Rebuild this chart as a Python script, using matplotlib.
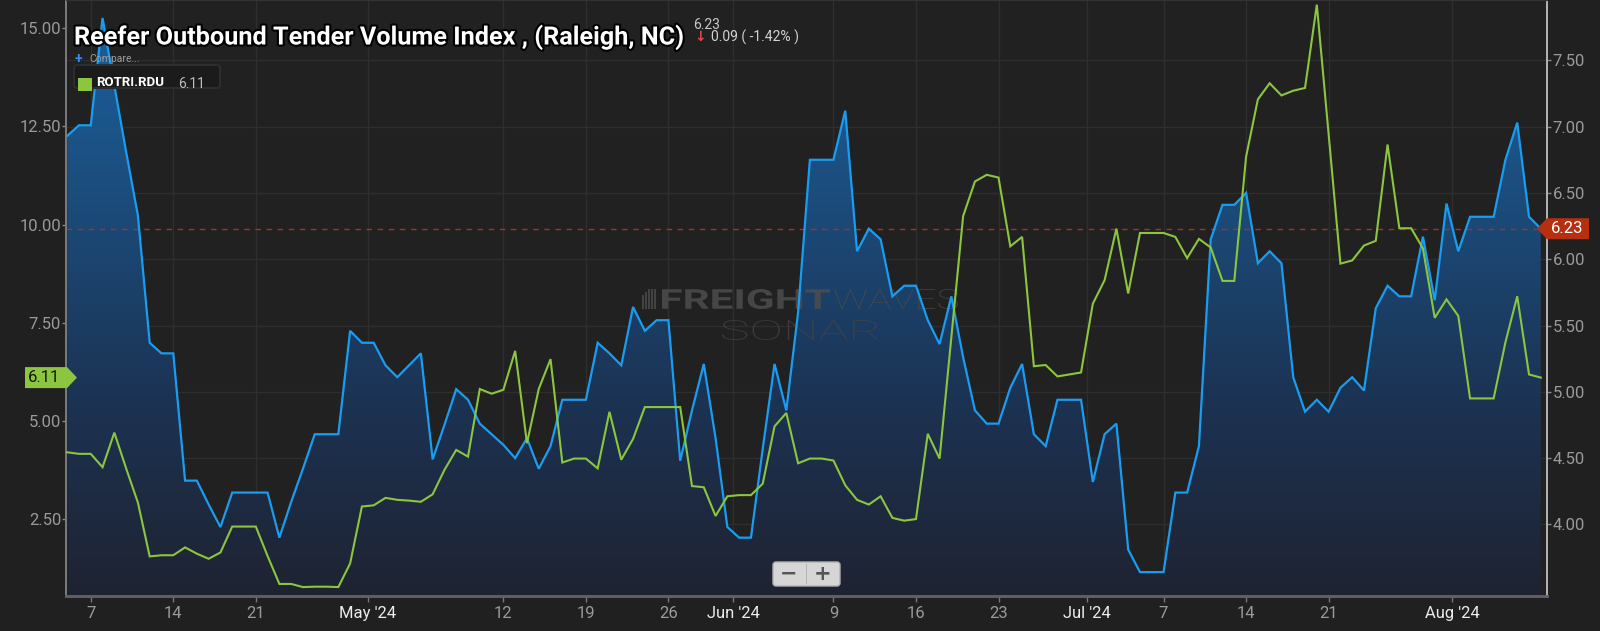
import numpy as np
import pandas as pd
import matplotlib
matplotlib.use("Agg")
import matplotlib.pyplot as plt
import matplotlib.dates as mdates
from matplotlib.colors import LinearSegmentedColormap
from matplotlib.patches import Polygon, FancyBboxPatch, Rectangle, PathPatch
from matplotlib.transforms import IdentityTransform, Affine2D
from matplotlib.textpath import TextPath
from matplotlib.font_manager import FontProperties
import matplotlib.patheffects as pe

plt.rcParams['font.family'] = ['Roboto', 'DejaVu Sans']

# ---------------- data ----------------
start_date = "2024-04-05"
n_days = 126

# Reefer Outbound Tender Volume Index (Raleigh) - right axis, blue area
rotvi = [6.93, 7.01, 7.01, 7.82, 7.31, 6.81, 6.33, 5.37, 5.29, 5.29,
         4.33, 4.33, 4.15, 3.98, 4.24, 4.24, 4.24, 4.24, 3.90, 4.17,
         4.42, 4.68, 4.68, 4.68, 5.46, 5.37, 5.37, 5.20, 5.11, 5.20,
         5.29, 4.49, 4.75, 5.02, 4.94, 4.76, 4.68, 4.60, 4.50, 4.65,
         4.42, 4.59, 4.94, 4.94, 4.94, 5.37, 5.29, 5.20, 5.64, 5.46,
         5.54, 5.54, 4.48, 4.86, 5.21, 4.65, 3.98, 3.90, 3.90, 4.57,
         5.21, 4.86, 5.60, 6.75, 6.75, 6.75, 7.12, 6.06, 6.23, 6.15,
         5.72, 5.80, 5.80, 5.54, 5.36, 5.72, 5.26, 4.86, 4.76, 4.76,
         5.03, 5.21, 4.68, 4.59, 4.94, 4.94, 4.94, 4.32, 4.68, 4.76,
         3.81, 3.64, 3.64, 3.64, 4.24, 4.24, 4.59, 6.15, 6.41, 6.41,
         6.50, 5.97, 6.06, 5.97, 5.11, 4.85, 4.94, 4.85, 5.03, 5.11,
         5.01, 5.63, 5.80, 5.72, 5.72, 6.17, 5.69, 6.42, 6.06, 6.32,
         6.32, 6.32, 6.75, 7.03, 6.32, 6.23]

# ROTRI.RDU - left axis, green line
rotri = [4.21, 4.17, 4.17, 3.83, 4.71, 3.80, 2.93, 1.56, 1.59, 1.59,
         1.79, 1.63, 1.50, 1.66, 2.32, 2.32, 2.32, 1.57, 0.86, 0.86,
         0.78, 0.79, 0.79, 0.78, 1.38, 2.83, 2.86, 3.05, 3.00, 2.98,
         2.95, 3.14, 3.76, 4.27, 4.10, 5.82, 5.70, 5.80, 6.79, 4.44,
         5.82, 6.58, 3.95, 4.05, 4.05, 3.80, 5.24, 4.02, 4.55, 5.36,
         5.36, 5.36, 5.36, 3.35, 3.32, 2.59, 3.09, 3.12, 3.12, 3.41,
         4.87, 5.21, 3.93, 4.05, 4.05, 4.00, 3.37, 3.00, 2.88, 3.09,
         2.54, 2.47, 2.51, 4.68, 4.05, 7.14, 10.22, 11.10, 11.27, 11.20,
         9.45, 9.69, 6.40, 6.43, 6.14, 6.19, 6.24, 7.99, 8.59, 9.90,
         8.25, 9.79, 9.79, 9.79, 9.69, 9.15, 9.64, 9.42, 8.57, 8.57,
         11.73, 13.19, 13.60, 13.29, 13.41, 13.48, 15.60, 12.31, 9.01, 9.09,
         9.47, 9.59, 12.04, 9.91, 9.91, 9.40, 7.63, 8.10, 7.68, 5.58,
         5.58, 5.58, 7.01, 8.18, 6.19, 6.11]

day_tick_dates = ["2024-04-07", "2024-04-14", "2024-04-21", "2024-05-12",
                  "2024-05-19", "2024-05-26", "2024-06-09", "2024-06-16",
                  "2024-06-23", "2024-07-07", "2024-07-14", "2024-07-21"]
day_tick_labels = ["7", "14", "21", "12", "19", "26", "9", "16", "23", "7", "14", "21"]
month_tick_dates = ["2024-05-01", "2024-06-01", "2024-07-01", "2024-08-01"]
month_tick_labels = ["May '24", "Jun '24", "Jul '24", "Aug '24"]

left_ticks = [2.5, 5.0, 7.5, 10.0, 12.5, 15.0]
right_ticks = [4.0, 4.5, 5.0, 5.5, 6.0, 6.5, 7.0, 7.5]

title_text = "Reefer Outbound Tender Volume Index , (Raleigh, NC)"
last_value = "6.23"
change_text = "0.09 ( -1.42% )"
series2_name = "ROTRI.RDU"
series2_last = "6.11"

# ---------------- style ----------------
W, H = 1600, 631
BG = "#202020"
BLUE = "#1a9cf0"
GREEN = "#8cc63e"
GRID = "#2e2e2e"
TICK_GREY = "#9a9a9a"

fig = plt.figure(figsize=(W / 100, H / 100), dpi=100, facecolor=BG)
ax = fig.add_axes([66 / W, (H - 596) / H, (1547 - 66) / W, 596 / H])
ax.set_facecolor("#212121")
axg = ax.twinx()

dates = pd.date_range(start_date, periods=n_days, freq="D")
x = mdates.date2num(dates.to_pydatetime())
blue = np.array(rotvi)
green = np.array(rotri)

r_lo, r_hi = 3.46, 7.955
l_lo, l_hi = 0.553, 15.718

# gradient area under blue line
cmap = LinearSegmentedColormap.from_list(
    "fill", [(0.0, "#1f2331"), (0.3, "#1c3150"), (0.78, "#1b5488"), (1.0, "#1a60a2")])
poly = ax.fill_between(x, blue, r_lo - 1, facecolor="none", edgecolor="none")
fill_path = poly.get_paths()[0]
grad = np.linspace(0, 1, 256).reshape(-1, 1)
im = ax.imshow(grad, cmap=cmap, origin="lower", extent=(0, 1, 0, 1),
               transform=ax.transAxes, aspect="auto", zorder=1, interpolation="bicubic")
im.set_clip_path(fill_path, transform=ax.transData)
poly.remove()

ax.plot(x, blue, color=BLUE, lw=1.6, zorder=4, solid_joinstyle="miter")
ax.axhline(float(last_value), color="#a8321f", lw=1.0, ls=(0, (4, 4)), zorder=3)
axg.plot(x, green, color=GREEN, lw=1.5, zorder=4, solid_joinstyle="miter")

x_left = x[0] - 0.1
x_right = x[-1] + 0.525
ax.set_xlim(x_left, x_right)
ax.set_ylim(r_lo, r_hi)
axg.set_ylim(l_lo, l_hi)

# x ticks
day_pos = list(mdates.date2num(pd.to_datetime(day_tick_dates).to_pydatetime()))
month_pos = list(mdates.date2num(pd.to_datetime(month_tick_dates).to_pydatetime()) - 0.5)
all_pos = day_pos + month_pos
all_lab = day_tick_labels + month_tick_labels
order = np.argsort(all_pos)
ax.set_xticks([all_pos[i] for i in order])
ax.set_xticklabels([all_lab[i] for i in order])
for lbl in ax.get_xticklabels():
    if "'" in lbl.get_text():
        lbl.set_color("#ececec")
    else:
        lbl.set_color(TICK_GREY)
    lbl.set_fontsize(12)
ax.tick_params(axis="x", length=4, width=1, color="#777777", pad=3)

# y ticks: blue on right, green on left
ax.yaxis.tick_right()
ax.set_yticks(right_ticks)
ax.set_yticklabels([f"{v:.2f}" for v in right_ticks])
ax.tick_params(axis="y", which="both", right=True, left=False, labelright=True,
               labelleft=False, length=3, width=1, color="#888888",
               labelcolor=TICK_GREY, labelsize=12, pad=1)
axg.yaxis.tick_left()
axg.yaxis.set_label_position("left")
axg.set_yticks(left_ticks)
axg.set_yticklabels([f"{v:.2f}" for v in left_ticks])
axg.tick_params(axis="y", which="both", left=True, right=False, labelleft=True,
                labelright=False, length=3, width=1, color="#888888",
                labelcolor=TICK_GREY, labelsize=12, pad=0.5)

ax.grid(True, color=GRID, lw=1.0, zorder=0)
ax.set_axisbelow(True)

for a in (ax, axg):
    a.spines["top"].set_color("#333333")
    a.spines["bottom"].set_color("#5f5f5f")
    a.spines["bottom"].set_linewidth(2)
    a.spines["left"].set_color("#7a7a7a")
    a.spines["left"].set_linewidth(1.3)
    a.spines["right"].set_color("#b5b5b5")
    a.spines["right"].set_linewidth(1.2)

# ---------------- watermark ----------------
def fit_path(s, fp, x0, x1, ytop, ybot, color, alpha, target):
    tp = TextPath((0, 0), s, size=100, prop=fp)
    ext = tp.get_extents()
    sx = (x1 - x0) / ext.width
    sy = (ybot - ytop) / ext.height
    tr = Affine2D().translate(-ext.x0, -ext.y0).scale(sx, sy).translate(x0, H - ybot)
    p = PathPatch(tr.transform_path(tp), transform=IdentityTransform(),
                  facecolor=color, edgecolor="none", alpha=alpha, zorder=2, clip_on=False)
    target.add_artist(p)

fit_path("FREIGHT", FontProperties(family="Roboto", weight="bold"),
         662, 830, 289, 309, "#4d4d4d", 0.85, ax)
fit_path("WAVES", FontProperties(family="Roboto", weight="light"),
         834, 958, 289, 309, "#4a4a4a", 0.85, ax)
fit_path("SONAR", FontProperties(family="Roboto", weight="light"),
         722, 878, 320, 340, "#434343", 0.85, ax)
for i, hh in enumerate([14, 17, 20, 20, 20]):
    xx = 642 + i * 3
    r = Rectangle((xx, H - 309), 1.6, hh, transform=IdentityTransform(),
                  facecolor="#4a4a4a", edgecolor="none", alpha=0.85, zorder=2, clip_on=False)
    ax.add_artist(r)

# ---------------- value tags ----------------
yl = axg.transData.transform((x[0], float(series2_last)))[1]
tag_l = Polygon([(25, yl + 10.5), (67, yl + 10.5), (77, yl), (67, yl - 10.5), (25, yl - 10.5)],
                closed=True, transform=IdentityTransform(), facecolor=GREEN,
                edgecolor="none", zorder=20, clip_on=False)
fig.add_artist(tag_l)
fig.text(44 / W, yl / H, series2_last, color="#151515", fontsize=12,
         ha="center", va="center", zorder=21)

yr = ax.transData.transform((x[-1], float(last_value)))[1]
tag_r = Polygon([(1537, yr), (1547, yr + 10.5), (1589, yr + 10.5), (1589, yr - 10.5), (1547, yr - 10.5)],
                closed=True, transform=IdentityTransform(), facecolor="#b52f10",
                edgecolor="none", zorder=20, clip_on=False)
fig.add_artist(tag_r)
fig.text(1567 / W, yr / H, last_value, color="white", fontsize=12,
         ha="center", va="center", zorder=21)

# ---------------- title & header ----------------
renderer = fig.canvas.get_renderer()
t = fig.text(74 / W, 1 - 44.5 / H, title_text, color="white", fontsize=17,
             fontweight="bold", ha="left", va="baseline", zorder=30,
             path_effects=[pe.withStroke(linewidth=3, foreground="black")])
w0 = t.get_window_extent(renderer=renderer).width
t.set_fontsize(17 * 611 / w0)

fig.text(693 / W, 1 - 25 / H, last_value, color="#c8c8c8", fontsize=10,
         ha="left", va="center", zorder=30)
fig.text(700 / W, 1 - 37 / H, "\u2193", color="#e04848", fontsize=10, fontweight="bold",
         family="DejaVu Sans", ha="center", va="center", zorder=30)
fig.text(711 / W, 1 - 37 / H, change_text, color="#d2d2d2", fontsize=10,
         ha="left", va="center", zorder=30)

fig.text(78 / W, 1 - 59 / H, "+", color="#2f8ff0", fontsize=10, fontweight="bold",
         ha="center", va="center", zorder=30)
fig.text(89 / W, 1 - 59 / H, "Compare...", color="#9c9c9c", fontsize=7.5,
         ha="left", va="center", zorder=30)

box = FancyBboxPatch((74, H - 88), 146, 23, boxstyle="round,pad=0,rounding_size=3",
                     transform=IdentityTransform(), facecolor="#1b1b1b",
                     edgecolor="#2d2d2d", lw=1.5, zorder=25, clip_on=False)
fig.add_artist(box)
sq = Rectangle((78, H - 91), 14, 13, transform=IdentityTransform(),
               facecolor=GREEN, edgecolor="none", zorder=26, clip_on=False)
fig.add_artist(sq)
fig.text(96 / W, 1 - 82.5 / H, series2_name, color="white", fontsize=9.5,
         fontweight="bold", ha="left", va="center", zorder=30)
fig.text(178 / W, 1 - 83.5 / H, series2_last, color="#bdbdbd", fontsize=10,
         ha="left", va="center", zorder=30)

# ---------------- zoom buttons ----------------
zb = FancyBboxPatch((773, H - 586), 67, 24, boxstyle="round,pad=0,rounding_size=3",
                    transform=IdentityTransform(), facecolor="#d6d6d6",
                    edgecolor="#b0b0b0", lw=1, zorder=25, clip_on=False)
fig.add_artist(zb)
fig.add_artist(Rectangle((805.5, H - 584), 1, 20, transform=IdentityTransform(),
                         facecolor="#b5b5b5", edgecolor="none", zorder=26))
fig.text(789 / W, 1 - 574 / H, "\u2212", color="#555555", fontsize=15, fontweight="bold",
         family="DejaVu Sans", ha="center", va="center", zorder=30)
fig.text(823 / W, 1 - 574 / H, "+", color="#555555", fontsize=15, fontweight="bold",
         family="DejaVu Sans", ha="center", va="center", zorder=30)

fig.savefig("out.png", dpi=100, facecolor=BG)
